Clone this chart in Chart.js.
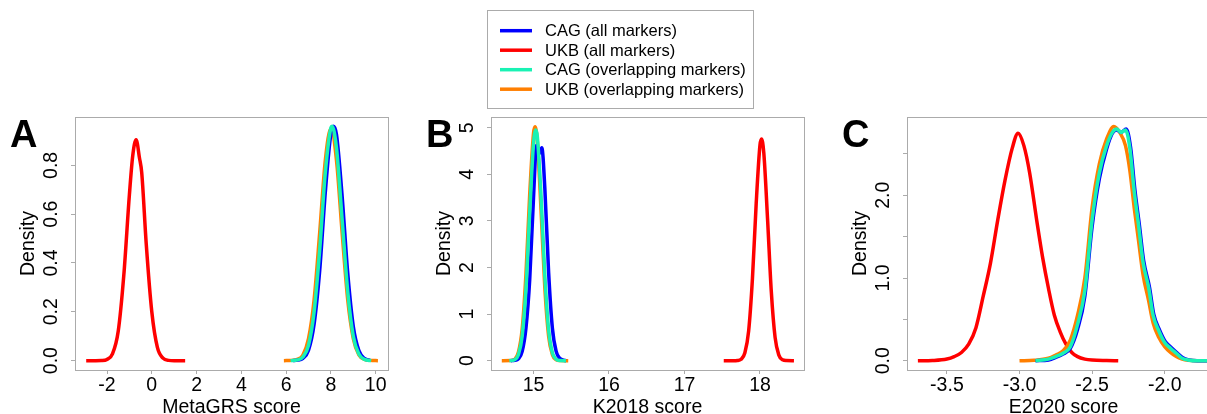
<!DOCTYPE html>
<html>
<head>
<meta charset="utf-8">
<script src="https://cdn.jsdelivr.net/npm/chart.js@4"></script>
<style>
    html, body { margin: 0; padding: 0; background: #fff; overflow: hidden; }
    body { width: 1207px; height: 414px; position: relative; }
    canvas { position: absolute; top: 0; }
</style>
</head>
<body>
<canvas id="panelA" width="416" height="414" style="left:0px"></canvas>
<canvas id="panelB" width="416" height="414" style="left:416px"></canvas>
<canvas id="panelC" width="416" height="414" style="left:832px"></canvas>
<script>
// series names / colours (legend order)
const seriesNames = ['CAG (all markers)', 'UKB (all markers)', 'CAG (overlapping markers)', 'UKB (overlapping markers)'];
const seriesColors = ['#0000FF', '#FF0000', '#19F2B4', '#FF7F00'];
const drawOrder = [1, 3, 0, 2]; // cyan on top, red at the bottom

// Panel A - MetaGRS score
const aXTicks = [-2, 0, 2, 4, 6, 8, 10];
const aXLabels = ['-2', '0', '2', '4', '6', '8', '10'];
const aYTicks = [0, 0.2, 0.4, 0.6, 0.8];
const aYLabels = ['0.0', '0.2', '0.4', '0.6', '0.8'];
const aCagAllX = [6.30, 6.50, 6.75, 7.00, 7.25, 7.50, 7.75, 8.00, 8.12, 8.25, 8.50, 8.75, 9.00, 9.25, 9.50, 9.75];
const aCagAllY = [0, 0.002, 0.009, 0.043, 0.15, 0.37, 0.69, 0.93, 0.96, 0.925, 0.675, 0.36, 0.14, 0.041, 0.009, 0.001];
const aUkbAllX = [-2.93, -2.50, -2.25, -2.00, -1.75, -1.50, -1.25, -1.00, -0.85, -0.70, -0.55, -0.45, -0.25, 0.00, 0.25, 0.50, 0.75, 1.00, 1.49];
const aUkbAllY = [0, 0, 0.0005, 0.005, 0.029, 0.12, 0.35, 0.68, 0.84, 0.905, 0.83, 0.77, 0.48, 0.2, 0.054, 0.01, 0.001, 0, 0];
const aCagOvX = [6.20, 6.50, 6.75, 7.00, 7.25, 7.50, 7.75, 8.00, 8.05, 8.25, 8.50, 8.75, 9.00, 9.25, 9.50, 9.80];
const aCagOvY = [0, 0.003, 0.015, 0.063, 0.2, 0.455, 0.77, 0.954, 0.96, 0.87, 0.58, 0.285, 0.10, 0.027, 0.005, 0];
const aUkbOvX = [5.90, 6.25, 6.50, 6.75, 7.00, 7.25, 7.50, 7.75, 8.00, 8.25, 8.50, 8.75, 9.00, 9.25, 9.50, 9.75, 10.10];
const aUkbOvY = [0, 0.001, 0.005, 0.023, 0.09, 0.25, 0.525, 0.82, 0.95, 0.82, 0.525, 0.25, 0.09, 0.023, 0.005, 0.001, 0];

// Panel B - K2018 score
const bXTicks = [15, 16, 17, 18];
const bXLabels = ['15', '16', '17', '18'];
const bYTicks = [0, 1, 2, 3, 4, 5];
const bYLabels = ['0', '1', '2', '3', '4', '5'];
const bCagAllX = [14.70, 14.75, 14.80, 14.85, 14.90, 14.95, 15.00, 15.04, 15.08, 15.11, 15.15, 15.20, 15.25, 15.30, 15.35, 15.40, 15.43];
const bCagAllY = [0, 0.007, 0.04, 0.2, 0.7, 1.75, 3.5, 4.62, 4.45, 4.57, 3.7, 1.9, 0.7, 0.2, 0.05, 0.01, 0];
const bUkbAllX = [17.52, 17.65, 17.70, 17.75, 17.80, 17.85, 17.90, 17.95, 18.00, 18.02, 18.05, 18.10, 18.15, 18.20, 18.25, 18.30, 18.35, 18.45];
const bUkbAllY = [0, 0, 0.004, 0.03, 0.17, 0.64, 1.76, 3.38, 4.63, 4.76, 4.47, 3.05, 1.48, 0.5, 0.12, 0.02, 0.003, 0];
const bCagOvX = [14.68, 14.75, 14.80, 14.85, 14.90, 14.95, 15.00, 15.03, 15.05, 15.10, 15.15, 15.20, 15.25, 15.30, 15.35, 15.43];
const bCagOvY = [0, 0.02, 0.13, 0.53, 1.54, 3.19, 4.66, 4.95, 4.82, 3.53, 1.83, 0.67, 0.17, 0.03, 0.004, 0];
const bUkbOvX = [14.58, 14.70, 14.75, 14.80, 14.85, 14.90, 14.95, 15.00, 15.02, 15.05, 15.10, 15.15, 15.20, 15.25, 15.30, 15.35, 15.46];
const bUkbOvY = [0, 0.004, 0.03, 0.18, 0.68, 1.86, 3.58, 4.88, 5.02, 4.72, 3.23, 1.56, 0.53, 0.13, 0.02, 0.003, 0];

// Panel C - E2020 score
const cXTicks = [-3.5, -3.0, -2.5, -2.0];
const cXLabels = ['-3.5', '-3.0', '-2.5', '-2.0'];
const cYTicks = [0, 0.5, 1.0, 1.5, 2.0, 2.5];
const cYLabels = ['0.0', '', '1.0', '', '2.0', ''];
const cCagAllX = [-2.89, -2.80, -2.75, -2.70, -2.65, -2.60, -2.55, -2.50, -2.45, -2.40, -2.36, -2.33, -2.30, -2.265, -2.235, -2.205, -2.175, -2.145, -2.105, -2.075, -2.035, -1.995, -1.955, -1.915, -1.875, -1.835, -1.775, -1.70];
const cCagAllY = [0, 0.01, 0.04, 0.08, 0.15, 0.38, 0.78, 1.62, 2.2, 2.56, 2.75, 2.79, 2.76, 2.8, 2.58, 2.06, 1.65, 1.21, 0.89, 0.56, 0.37, 0.23, 0.16, 0.095, 0.035, 0.01, 0, 0];
const cUkbAllX = [-3.70, -3.60, -3.50, -3.45, -3.40, -3.35, -3.30, -3.25, -3.20, -3.15, -3.10, -3.05, -3.01, -2.97, -2.93, -2.88, -2.84, -2.80, -2.76, -2.72, -2.68, -2.64, -2.60, -2.55, -2.50, -2.40, -2.32];
const cUkbAllY = [0, 0.003, 0.02, 0.05, 0.1, 0.2, 0.4, 0.78, 1.18, 1.7, 2.18, 2.57, 2.75, 2.6, 2.27, 1.68, 1.24, 0.87, 0.55, 0.35, 0.2, 0.1, 0.05, 0.02, 0.008, 0.002, 0];
const cCagOvX = [-2.89, -2.80, -2.75, -2.70, -2.65, -2.60, -2.55, -2.50, -2.45, -2.40, -2.36, -2.33, -2.30, -2.27, -2.24, -2.21, -2.18, -2.15, -2.11, -2.08, -2.04, -2.00, -1.96, -1.92, -1.88, -1.84, -1.78, -1.70];
const cCagOvY = [0, 0.02, 0.05, 0.09, 0.17, 0.44, 0.85, 1.7, 2.27, 2.6, 2.76, 2.8, 2.76, 2.79, 2.57, 2.05, 1.64, 1.2, 0.88, 0.55, 0.36, 0.22, 0.15, 0.09, 0.03, 0.01, 0, 0];
const cUkbOvX = [-3.00, -2.90, -2.80, -2.75, -2.70, -2.65, -2.60, -2.55, -2.50, -2.45, -2.40, -2.35, -2.31, -2.27, -2.24, -2.21, -2.18, -2.15, -2.11, -2.08, -2.04, -2.00, -1.96, -1.92, -1.88, -1.84, -1.78, -1.70];
const cUkbOvY = [0, 0.005, 0.03, 0.07, 0.12, 0.25, 0.55, 1.0, 1.85, 2.38, 2.68, 2.83, 2.76, 2.6, 2.3, 1.85, 1.45, 1.05, 0.72, 0.46, 0.28, 0.17, 0.1, 0.05, 0.02, 0.005, 0, 0];

const AXIS_GRAY = '#ababab';
const TEXT_FONT = '19.5px "Liberation Sans"';
Chart.defaults.font.family = '"Liberation Sans", Arial, sans-serif';

function toPoints(xs, ys) {
    return xs.map((x, i) => ({ x: x, y: ys[i] }));
}

// box, rotated y labels, axis titles and the panel letter
const panelDecor = {
    id: 'panelDecor',
    afterDraw(chart, args, opts) {
        const ctx = chart.ctx;
        const a = chart.chartArea;
        const yScale = chart.scales.y;
        ctx.save();
        ctx.strokeStyle = AXIS_GRAY;
        ctx.lineWidth = 1;
        ctx.strokeRect(a.left + 0.5, a.top + 0.5, a.right - a.left, a.bottom - a.top);

        ctx.fillStyle = '#000';
        ctx.font = TEXT_FONT;
        ctx.textAlign = 'center';
        ctx.textBaseline = 'alphabetic';
        opts.yTicks.forEach((v, i) => {
            if (!opts.yLabels[i]) return;
            ctx.save();
            ctx.translate(a.left - 18, yScale.getPixelForValue(v));
            ctx.rotate(-Math.PI / 2);
            ctx.fillText(opts.yLabels[i], 0, 0);
            ctx.restore();
        });
        ctx.save();
        ctx.translate(a.left - 41.5, (a.top + a.bottom) / 2);
        ctx.rotate(-Math.PI / 2);
        ctx.fillText('Density', 0, 0);
        ctx.restore();
        ctx.fillText(opts.xTitle, (a.left + a.right) / 2, 413);

        ctx.font = 'bold 38px "Liberation Sans"';
        ctx.textAlign = 'left';
        ctx.fillText(opts.letter, a.left - 65, 147);
        ctx.restore();
    }
};

// boxed legend drawn above panel B
const legendBox = {
    id: 'legendBox',
    afterDraw(chart) {
        const ctx = chart.ctx;
        const x0 = 71, y0 = 10, w = 266, h = 98;
        ctx.save();
        ctx.strokeStyle = AXIS_GRAY;
        ctx.lineWidth = 1;
        ctx.strokeRect(x0 + 0.5, y0 + 0.5, w, h);
        ctx.font = '16.5px "Liberation Sans"';
        ctx.textAlign = 'left';
        ctx.textBaseline = 'middle';
        chart.data.datasets.forEach((ds, i) => {
            const y = 30.7 + i * 19.5;
            ctx.strokeStyle = ds.borderColor;
            ctx.lineWidth = 3.5;
            ctx.beginPath();
            ctx.moveTo(x0 + 13, y);
            ctx.lineTo(x0 + 45, y);
            ctx.stroke();
            ctx.fillStyle = '#000';
            ctx.fillText(ds.label, x0 + 58, y + 1);
        });
        ctx.restore();
    }
};

function makePanel(id, p) {
    const datasets = p.series.map((s, i) => ({
        label: seriesNames[i],
        data: toPoints(s[0], s[1]),
        borderColor: seriesColors[i],
        borderWidth: 3.5,
        pointRadius: 0,
        fill: false,
        cubicInterpolationMode: 'monotone',
        order: drawOrder[i]
    }));
    const plugins = [panelDecor];
    if (p.legend) plugins.push(legendBox);

    new Chart(document.getElementById(id), {
        type: 'line',
        data: { datasets: datasets },
        plugins: plugins,
        options: {
            responsive: false,
            animation: false,
            layout: { padding: { left: 0, right: 28, top: 117, bottom: 0 } },
            plugins: {
                legend: { display: false },
                tooltip: { enabled: false },
                panelDecor: { yTicks: p.yTicks, yLabels: p.yLabels, xTitle: p.xTitle, letter: p.letter }
            },
            scales: {
                x: {
                    type: 'linear',
                    min: p.xMin,
                    max: p.xMax,
                    afterBuildTicks: s => { s.ticks = p.xTicks.map(v => ({ value: v })); },
                    afterFit: s => { s.height = 44; },
                    border: { display: false },
                    grid: { drawOnChartArea: false, drawTicks: true, tickLength: 4, color: AXIS_GRAY },
                    ticks: {
                        autoSkip: false, maxRotation: 0, padding: 0, color: '#000',
                        font: { size: 19.5 },
                        callback: (v, i) => p.xLabels[i]
                    }
                },
                y: {
                    type: 'linear',
                    min: p.yMin,
                    max: p.yMax,
                    afterBuildTicks: s => { s.ticks = p.yTicks.map(v => ({ value: v })); },
                    afterFit: s => { s.width = 75; },
                    border: { display: false },
                    grid: { drawOnChartArea: false, drawTicks: true, tickLength: 4, color: AXIS_GRAY },
                    ticks: { display: false }
                }
            }
        }
    });
}

makePanel('panelA', {
    letter: 'A', xTitle: 'MetaGRS score',
    xMin: -3.43, xMax: 10.55, yMin: -0.0384, yMax: 0.998,
    xTicks: aXTicks, xLabels: aXLabels, yTicks: aYTicks, yLabels: aYLabels,
    series: [[aCagAllX, aCagAllY], [aUkbAllX, aUkbAllY], [aCagOvX, aCagOvY], [aUkbOvX, aUkbOvY]]
});
makePanel('panelB', {
    letter: 'B', xTitle: 'K2018 score', legend: true,
    xMin: 14.437, xMax: 18.583, yMin: -0.2, yMax: 5.23,
    xTicks: bXTicks, xLabels: bXLabels, yTicks: bYTicks, yLabels: bYLabels,
    series: [[bCagAllX, bCagAllY], [bUkbAllX, bUkbAllY], [bCagOvX, bCagOvY], [bUkbOvX, bUkbOvY]]
});
makePanel('panelC', {
    letter: 'C', xTitle: 'E2020 score',
    xMin: -3.775, xMax: -1.619, yMin: -0.112, yMax: 2.946,
    xTicks: cXTicks, xLabels: cXLabels, yTicks: cYTicks, yLabels: cYLabels,
    series: [[cCagAllX, cCagAllY], [cUkbAllX, cUkbAllY], [cCagOvX, cCagOvY], [cUkbOvX, cUkbOvY]]
});
</script>
</body>
</html>
